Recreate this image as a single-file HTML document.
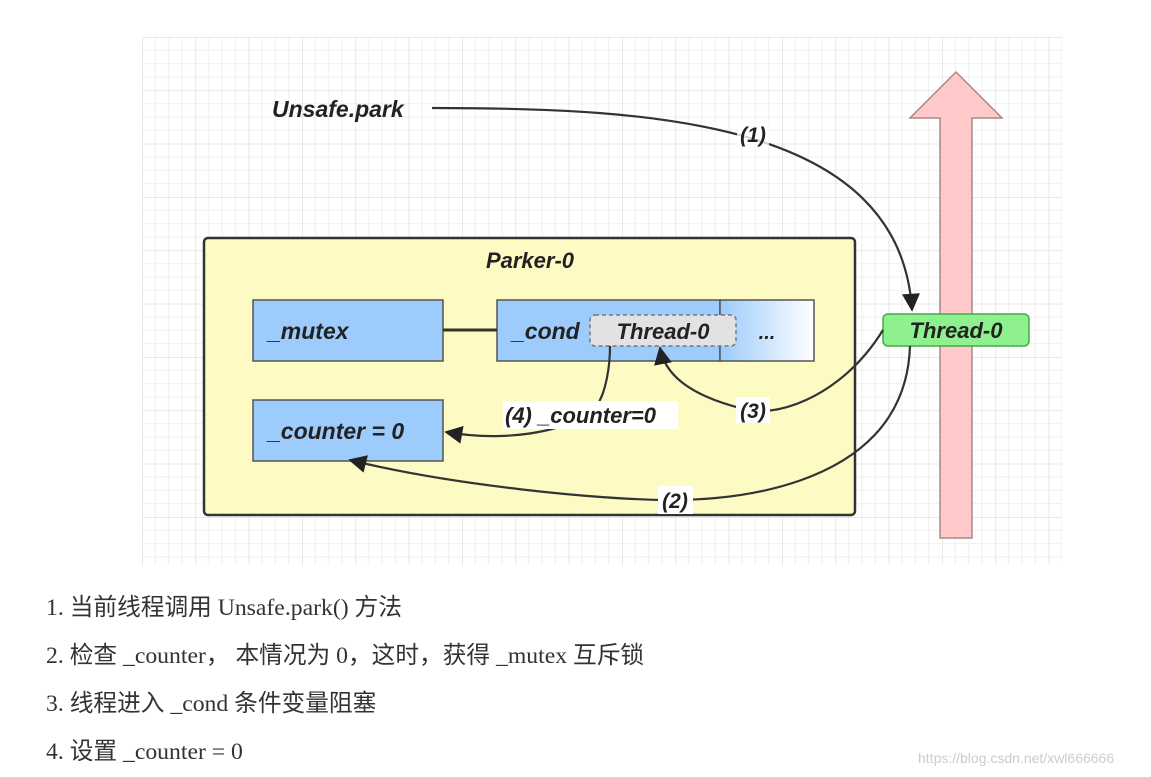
<!DOCTYPE html>
<html><head><meta charset="utf-8"><style>
body{margin:0;width:1151px;height:777px;background:#fff;overflow:hidden;position:relative;font-family:"Liberation Serif","Noto Sans CJK SC",serif;}
.t{position:absolute;left:46px;font-size:23.7px;color:#333;}
</style></head><body>
<svg width="1151" height="777" style="position:absolute;left:0;top:0">
<defs>
<pattern id="g" x="142" y="37" width="53.33" height="53.33" patternUnits="userSpaceOnUse">
<path d="M13.33 0V53.33M26.67 0V53.33M40 0V53.33M0 13.33H53.33M0 26.67H53.33M0 40H53.33" stroke="#efefef" stroke-width="1"/>
<path d="M0 0V53.33M0 0H53.33" stroke="#e0e0e0" stroke-width="1.5"/>
</pattern>
<linearGradient id="lg" x1="0" x2="1"><stop offset="0" stop-color="#9ccbfc"/><stop offset="1" stop-color="#fff"/></linearGradient>
<marker id="b" viewBox="0 0 10 10" refX="9" refY="5" markerWidth="22" markerHeight="18" orient="auto" markerUnits="userSpaceOnUse"><path d="M0 0L10 5L0 10z" fill="#222"/></marker>
</defs>
<rect x="142" y="37" width="920" height="528" fill="url(#g)"/>
<path d="M940 538V118H910L956 72L1002 118H972V538Z" fill="#ffc9c9" stroke="#a88" stroke-width="1.5"/>
<rect x="204" y="238" width="651" height="277" rx="4" fill="#fdfbc3" stroke="#333" stroke-width="2.5"/>
<rect x="253" y="300" width="190" height="61" fill="#9ccbfc" stroke="#555" stroke-width="1.5"/>
<rect x="497" y="300" width="223" height="61" fill="#9ccbfc" stroke="#555" stroke-width="1.5"/>
<rect x="720" y="300" width="94" height="61" fill="url(#lg)" stroke="#555" stroke-width="1.5"/>
<line x1="443" y1="330" x2="497" y2="330" stroke="#333" stroke-width="3"/>
<rect x="590" y="315" width="146" height="31" rx="5" fill="#e2e2e2" stroke="#777" stroke-width="1.5" stroke-dasharray="4 3"/>
<rect x="253" y="400" width="190" height="61" fill="#9ccbfc" stroke="#555" stroke-width="1.5"/>
<rect x="883" y="314" width="146" height="32" rx="5" fill="#8ff08f" stroke="#4a4" stroke-width="1.5"/>
<g fill="none" stroke="#333" stroke-width="2.2">
<path d="M432 108C650 108 900 120 912 310" marker-end="url(#b)"/>
<path d="M883 330C840 400 770 420 740 408C690 395 665 375 660 348" marker-end="url(#b)"/>
<path d="M610 346C610 370 605 390 600 400C590 425 520 445 446 432" marker-end="url(#b)"/>
<path d="M910 346C905 500 700 500 670 500C600 500 450 485 350 460" marker-end="url(#b)"/>
</g>
<g font-family="Liberation Sans,sans-serif" font-style="italic" font-weight="bold" fill="#222">
<text x="272" y="117" font-size="23">Unsafe.park</text>
<text x="530" y="268" font-size="22" text-anchor="middle">Parker-0</text>
<text x="268" y="339" font-size="23">_mutex</text>
<text x="512" y="339" font-size="23">_cond</text>
<text x="663" y="339" font-size="22" text-anchor="middle">Thread-0</text>
<text x="767" y="339" font-size="20" text-anchor="middle">...</text>
<text x="268" y="439" font-size="23">_counter = 0</text>
<text x="956" y="338" font-size="22" text-anchor="middle">Thread-0</text>
<rect x="737" y="122" width="32" height="24" fill="#fff" opacity="0.8"/>
<text x="753" y="142" font-size="21" text-anchor="middle">(1)</text>
<rect x="736" y="397" width="34" height="26" fill="#fff"/>
<text x="753" y="418" font-size="21" text-anchor="middle">(3)</text>
<rect x="503" y="401" width="175" height="28" fill="#fff"/>
<text x="505" y="423" font-size="22">(4) _counter=0</text>
<rect x="658" y="486" width="35" height="28" fill="#fff"/>
<text x="675" y="508" font-size="21" text-anchor="middle">(2)</text>
</g>
</svg>
<div class="t" style="top:588px">1. 当前线程调用 Unsafe.park() 方法</div>
<div class="t" style="top:636px">2. 检查 _counter， 本情况为 0，这时，获得 _mutex 互斥锁</div>
<div class="t" style="top:684px">3. 线程进入 _cond 条件变量阻塞</div>
<div class="t" style="top:732px">4. 设置 _counter = 0</div>
<div style="position:absolute;left:918px;top:750px;font-family:'Liberation Sans',sans-serif;font-size:14px;color:#ccc">https://blog.csdn.net/xwl666666</div>
</body></html>
